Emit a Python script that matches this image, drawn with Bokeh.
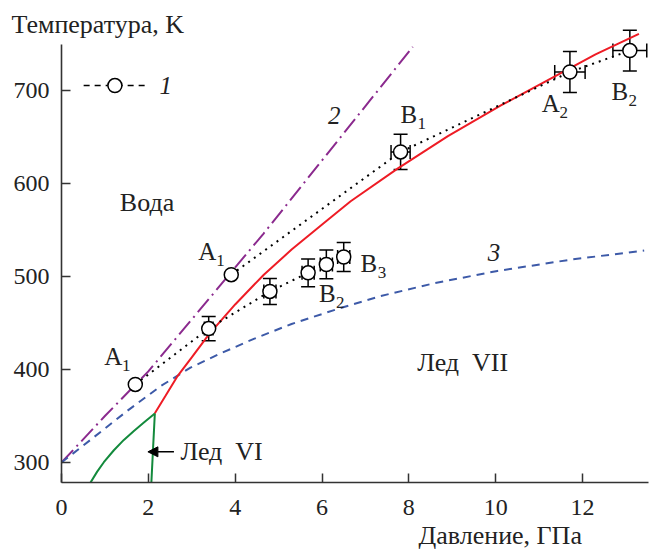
from bokeh.plotting import figure
from bokeh.models import (ColumnDataSource, Whisker, TeeHead, Label, Arrow,
                          NormalHead, Range1d, FixedTicker, Title)
from bokeh.embed import file_html
from bokeh.resources import INLINE
from bokeh.core.properties import value

FONT = "Liberation Serif"

# ---------------- data ----------------
# experimental points (pressure GPa, temperature K) with errors
pt_p = [1.70, 3.91, 3.39, 4.80, 5.68, 6.10, 6.50, 7.81, 11.71, 13.09]
pt_t = [384, 502, 444, 484, 504, 513, 521, 634, 720, 743]
pt_perr = [0, 0, 0.10, 0.14, 0.14, 0.14, 0.14, 0.22, 0.35, 0.39]
pt_terr = [0, 0, 13, 14, 15, 15.5, 15.5, 19, 22, 22]

# dotted connecting series
dot1_p = [1.70, 3.39, 4.80, 5.68]
dot1_t = [384, 444, 484, 504]
dot2_p = [3.91, 7.81, 11.71, 13.09]
dot2_t = [502, 634, 720, 743]

# melting curve of ice VII (red)
red_p = [2.15, 2.40, 2.66, 3.00, 3.40, 4.00, 4.66, 5.30, 6.08, 6.66,
         7.74, 8.90, 10.12, 11.31, 12.30, 13.30]
red_t = [353, 372, 392, 413, 438, 470, 502, 529, 559, 581,
         616, 651, 684, 714, 739, 761]

# curve 2 (purple dash-dot)
c2_p = [0.0, 1.0, 2.0, 4.65, 5.66, 8.09]
c2_t = [300, 350, 398, 546, 605, 747]

# curve 3 (blue dashed)
c3_p = [0.0, 0.74, 1.50, 2.28, 2.97, 3.60, 4.43, 5.30, 6.35, 7.35,
        8.60, 10.04, 11.70, 13.42]
c3_t = [300, 327, 355, 382, 402, 416, 433, 449, 465, 479,
        493, 506, 518, 528]

# ice VI boundaries (green)
g1_p = [0.668, 0.822, 0.975, 1.206, 1.436, 1.667, 1.897, 2.150]
g1_t = [278.4, 290.2, 300.3, 313.2, 324.3, 334.0, 343.0, 352.7]
g2_p = [2.15, 2.11, 2.07]
g2_t = [353, 316, 278.5]

x_ticks = [0, 2, 4, 6, 8, 10, 12]
y_ticks = [300, 400, 500, 600, 700]

# point labels: letter, subscript, position
lab_letter = ["A", "A", "B", "A", "B", "B", "B"]
lab_sub = ["1", "1", "1", "2", "2", "2", "3"]
lab_p = [1.19, 3.36, 8.00, 11.27, 12.86, 6.12, 7.08]
lab_t = [413.7, 526.7, 674, 685.6, 699, 482, 514]

# ---------------- figure ----------------
p = figure(width=649, height=551, x_range=Range1d(0, 13.52),
           y_range=Range1d(278.5, 770), output_backend="svg",
           toolbar_location=None, min_border_left=61, min_border_right=1,
           min_border_top=25, min_border_bottom=69)
p.outline_line_color = None
p.grid.visible = False

# top-left axis title
p.title.text = "Температура, K"
p.title.align = "left"
p.title.offset = -50
p.title.standoff = -26
p.title.text_font = FONT
p.title.text_font_size = "26px"
p.title.text_font_style = "normal"
p.title.text_color = "#222222"
p.title.text_line_height = 1.0

# bottom-right axis title
p.add_layout(Title(text="Давление, ГПа", align="left", offset=357, standoff=2,
                   text_font=FONT, text_font_size="26px", text_font_style="normal",
                   text_color="#222222", text_line_height=1.0), "below")

AX = "#333333"
for ax in (p.xaxis[0], p.yaxis[0]):
    ax.axis_line_color = AX
    ax.axis_line_width = 1.6
    ax.major_tick_line_color = AX
    ax.major_tick_line_width = 1.5
    ax.major_tick_in = 9
    ax.major_tick_out = 0
    ax.minor_tick_line_color = None
    ax.major_label_text_font = FONT
    ax.major_label_text_font_size = "24px"
    ax.major_label_text_color = "#222222"
p.xaxis.ticker = FixedTicker(ticks=x_ticks)
p.yaxis.ticker = FixedTicker(ticks=y_ticks)
p.xaxis.major_label_standoff = 17
p.yaxis.major_label_standoff = 12
p.yaxis.bounds = (278.5, 750)

# lines
p.line(c2_p, c2_t, line_color="#8b2a8e", line_width=2, line_dash="17 5 2 5")
p.line(c3_p, c3_t, line_color="#3d5aa8", line_width=2, line_dash="8 6")
p.line(g1_p, g1_t, line_color="#138a3c", line_width=2)
p.line(g2_p, g2_t, line_color="#138a3c", line_width=2)
p.line(red_p, red_t, line_color="#ee1c25", line_width=2)
p.line(dot1_p, dot1_t, line_color="black", line_width=2, line_dash="2 5")
p.line(dot2_p, dot2_t, line_color="black", line_width=2, line_dash="2 5")

# error bars
err_idx = [i for i in range(len(pt_p)) if pt_terr[i] > 0]
esrc = ColumnDataSource(dict(
    x=[pt_p[i] for i in err_idx], y=[pt_t[i] for i in err_idx],
    yl=[pt_t[i] - pt_terr[i] for i in err_idx], yu=[pt_t[i] + pt_terr[i] for i in err_idx],
    xl=[pt_p[i] - pt_perr[i] for i in err_idx], xu=[pt_p[i] + pt_perr[i] for i in err_idx]))
wy = Whisker(source=esrc, base="x", lower="yl", upper="yu", dimension="height",
             line_width=1.5, line_color="black", level="underlay",
             upper_head=TeeHead(size=14, line_width=1.5, line_color="black"),
             lower_head=TeeHead(size=14, line_width=1.5, line_color="black"))
wx = Whisker(source=esrc, base="y", lower="xl", upper="xu", dimension="width",
             line_width=1.5, line_color="black", level="underlay",
             upper_head=TeeHead(size=14, line_width=1.5, line_color="black"),
             lower_head=TeeHead(size=14, line_width=1.5, line_color="black"))
p.add_layout(wy)
p.add_layout(wx)

p.scatter(pt_p, pt_t, marker="circle", size=14, fill_color="white",
          line_color="black", line_width=1.5)

# point labels with subscripts
lsrc = ColumnDataSource(dict(x=lab_p, y=lab_t, t=lab_letter, s=lab_sub))
p.text(x="x", y="y", text="t", source=lsrc, text_font=value(FONT),
       text_font_size="25px", text_align="center", text_baseline="middle",
       text_color="#222222")
p.text(x="x", y="y", text="s", source=lsrc, text_font=value(FONT),
       text_font_size="17px", text_align="center", text_baseline="middle",
       text_color="#222222", x_offset=13, y_offset=9)

# legend entry 1
p.line([0.51, 1.98], [705.4, 705.4], line_color="black", line_width=1.5, line_dash="6 5")
p.scatter([1.23], [705.4], marker="circle", size=14, fill_color="white",
          line_color="black", line_width=1.5)

def lab(x, y, t, size="26px", style="normal", align="center", base="middle"):
    p.add_layout(Label(x=x, y=y, text=t, text_font=FONT, text_font_size=size,
                       text_font_style=style, text_align=align,
                       text_baseline=base, text_color="#222222"))

NB = "\u00a0"
lab(2.40, 705.4, "1", style="italic", size="25px")
lab(6.28, 673, "2", style="italic", size="25px")
lab(9.96, 526, "3", style="italic", size="25px")
lab(1.97, 579.4, "Вода")
lab(9.24, 408, "Лед" + NB + NB + "VII")
lab(2.74, 311.5, "Лед" + NB + NB + "VI", align="left")

p.add_layout(Arrow(x_start=2.59, y_start=311.5, x_end=1.99, y_end=311.5,
                   line_color="black", line_width=1.5,
                   end=NormalHead(size=10, fill_color="black", line_color="black")))

open("out.html", "w").write(file_html(p, INLINE))
